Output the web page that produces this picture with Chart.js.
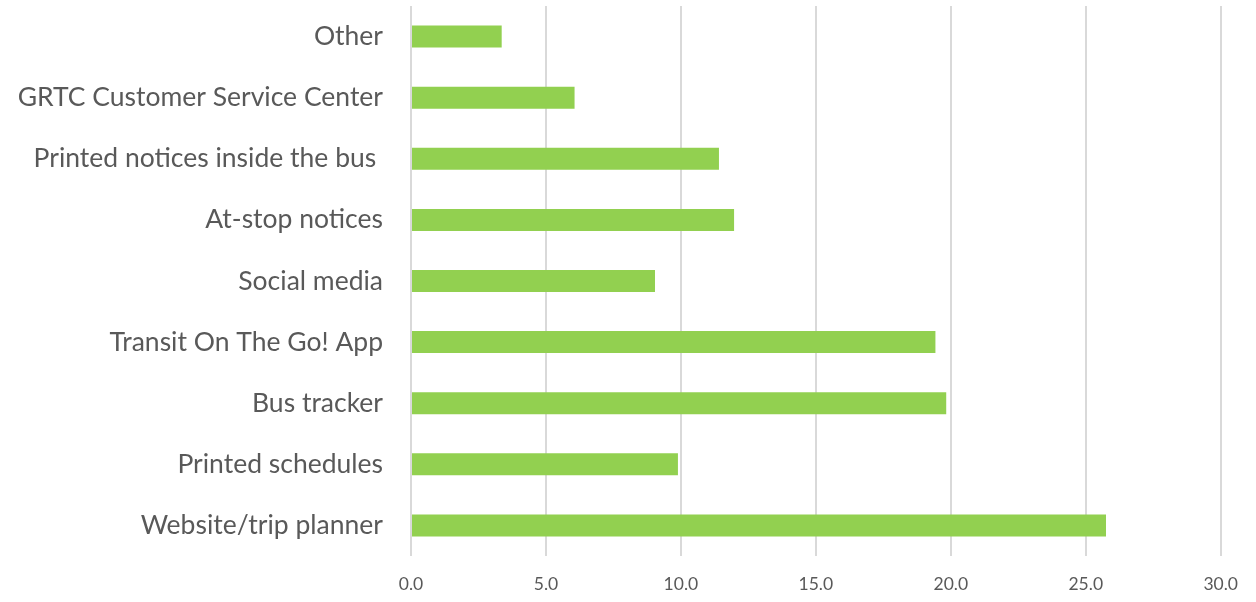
<!DOCTYPE html>
<html>
<head>
<meta charset="utf-8">
<script src="https://cdn.jsdelivr.net/npm/chart.js@4"></script>
<style>
  html, body { margin: 0; padding: 0; background: #fff; overflow: hidden; }
  canvas { display: block; }
</style>
</head>
<body>
<canvas id="grafica" width="1256" height="602"></canvas>
<script>
// categorías en orden de Excel (la primera abajo)
const categorias = [
  'Website/trip planner',
  'Printed schedules',
  'Bus tracker',
  'Transit On The Go! App',
  'Social media',
  'At-stop notices',
  'Printed notices inside the bus ',
  'GRTC Customer Service Center',
  'Other'
];
const valores = [25.75, 9.89, 19.83, 19.43, 9.04, 11.97, 11.41, 6.06, 3.36];
const ticksX = [0, 5, 10, 15, 20, 25, 30];

const fuente = 'Lato, "Open Sans", sans-serif';
const gris = '#595959';

const ctx = document.getElementById('grafica').getContext('2d');
new Chart(ctx, {
  type: 'bar',
  data: {
    labels: categorias,
    datasets: [{
      data: valores,
      backgroundColor: '#92D050',
      borderWidth: 0,
      barPercentage: 0.36,
      categoryPercentage: 1
    }]
  },
  options: {
    indexAxis: 'y',
    responsive: false,
    animation: false,
    layout: { padding: { top: 6, right: 0, left: 0, bottom: 0 } },
    plugins: {
      legend: { display: false },
      tooltip: { enabled: false }
    },
    scales: {
      x: {
        min: 0,
        max: 30,
        afterBuildTicks: (scale) => {
          scale.ticks = ticksX.map(v => ({ value: v }));
        },
        afterFit: (scale) => { scale.height = 46; },
        grid: { color: '#D9D9D9', lineWidth: 2, drawTicks: false },
        border: { display: false },
        ticks: {
          padding: 18,
          color: gris,
          font: { family: fuente, size: 17.5 },
          callback: (v) => Number(v).toFixed(1)
        }
      },
      y: {
        reverse: true,
        afterFit: (scale) => {
          scale.width = 411;
          scale.paddingTop = 0;
          scale.paddingBottom = 0;
        },
        grid: { display: false, drawTicks: false },
        border: { display: false },
        ticks: {
          padding: 28,
          color: gris,
          font: { family: fuente, size: 26.5 }
        }
      }
    }
  }
});
</script>
</body>
</html>
